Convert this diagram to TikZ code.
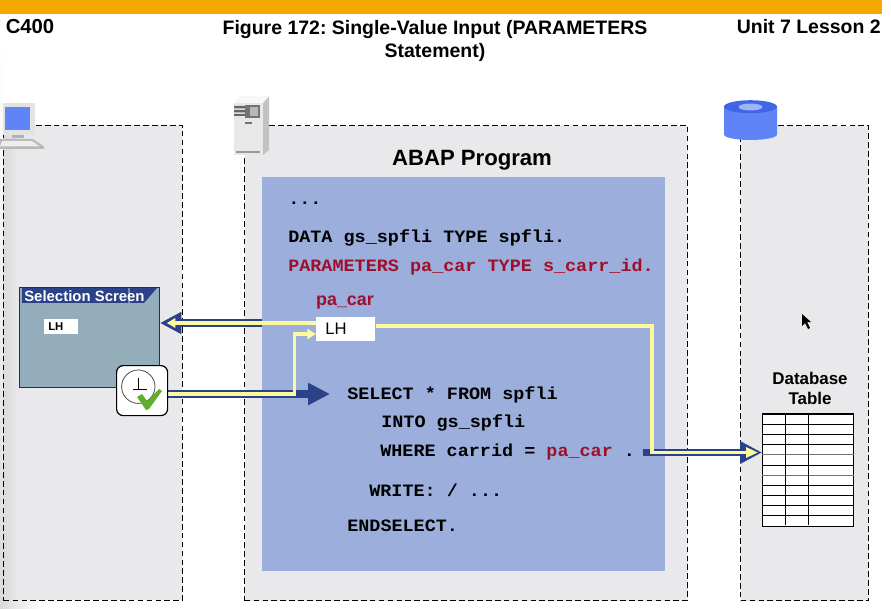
\documentclass[tikz,border=0pt]{standalone}
\usepackage{fontspec}
\usetikzlibrary{arrows.meta}
\setmainfont{Liberation Sans}
\setmonofont[FakeStretch=1.065]{Liberation Mono}
\frenchspacing
\definecolor{barorange}{HTML}{F3A900}
\definecolor{panelgray}{HTML}{E9E8EA}
\definecolor{edgegray}{HTML}{DADADA}
\definecolor{progblue}{HTML}{9BAEDC}
\definecolor{codered}{HTML}{A00F2A}
\definecolor{navyarrow}{HTML}{2B4288}
\definecolor{paleyellow}{HTML}{FBFB9E}
\definecolor{screenteal}{HTML}{93ADBB}
\definecolor{diskblue}{HTML}{5F84F8}
\definecolor{disktop}{HTML}{3F66E6}
\definecolor{diskhole}{HTML}{9DB4FA}
\definecolor{tickgreen}{HTML}{62AE2C}
\tikzset{
  panel/.style={draw=black,fill=panelgray,line width=1pt,dash pattern=on 4.3pt off 2.4pt,inner sep=0pt,anchor=north west},
  codetext/.style={anchor=west,inner sep=0pt,font=\ttfamily\bfseries\fontsize{13}{15}\selectfont,text=black},
  headtext/.style={inner sep=0pt,font=\bfseries\fontsize{14.6}{17.25}\selectfont,align=center},
  navyline/.style={draw=navyarrow,line width=5.5pt},
  yellowline/.style={draw=paleyellow,line width=2.3pt},
  valuebox/.style={fill=white,inner sep=0pt,anchor=north west},
  rowline/.style={draw=black,line width=1.05pt}
}
\begin{document}
\begin{tikzpicture}[x=0.75pt,y=-0.75pt]
\useasboundingbox (0,0) rectangle (891,609);
\fill[white] (0,0) rectangle (891,609);
\fill[barorange] (0,0) rectangle (882,14);
\shade[top color=white,bottom color=edgegray] (0,40) rectangle (3,609);
\shade[left color=edgegray,right color=white] (0,600) rectangle (40,609);
\node[headtext,anchor=east,font=\bfseries\fontsize{15.2}{18}\selectfont] (course) at (54.5,27) {C400};
\node[headtext] (title) at (435,41) {Figure 172: Single-Value Input (PARAMETERS\\Statement)};
\node[headtext,anchor=east] (unit) at (881,27) {Unit 7 Lesson 2};
% panels
\fill[panelgray] (3,125) rectangle (182,600);
\shade[left color=edgegray,right color=panelgray] (3,125) rectangle (18,600);
\node[panel,fill=none,minimum width=179*0.75pt,minimum height=475*0.75pt] (clientpanel) at (3,125) {};
\node[panel,minimum width=443*0.75pt,minimum height=475*0.75pt] (serverpanel) at (244,125) {};
\node[panel,minimum width=128*0.75pt,minimum height=475*0.75pt] (dbpanel) at (740,125) {};
\node[fill=progblue,inner sep=0pt,anchor=north west,minimum width=403*0.75pt,minimum height=394*0.75pt] (progbox) at (262,177) {};
\node[inner sep=0pt,font=\bfseries\fontsize{16.6}{19}\selectfont] (abap) at (472,160.5) {ABAP Program};
% code
\node[codetext] (c1) at (288,203) {...};
\node[codetext] (c2) at (288,237.5) {DATA gs\_spfli TYPE spfli.};
\node[codetext,text=codered] (c3) at (288,267) {PARAMETERS pa\_car TYPE s\_carr\_id.};
\node[inner sep=0pt,font=\bfseries\fontsize{13.4}{15}\selectfont,text=codered] (pacar) at (345,303) {pa\_car};
\node[valuebox,minimum width=59*0.75pt,minimum height=24*0.75pt] (lhprog) at (316,317) {};
\node[anchor=west,inner sep=0pt,font=\fontsize{12.5}{14}\selectfont] (lhtext) at (325,329) {LH};
\node[codetext] (c4) at (347,395) {SELECT * FROM spfli};
\node[codetext] (c5) at (381,423) {INTO gs\_spfli};
\node[codetext] (c6) at (380,452) {WHERE carrid = \textcolor{codered}{pa\_car} .};
\node[codetext] (c7) at (369,490) {WRITE: / ...};
\node[codetext] (c8) at (347,526) {ENDSELECT.};
% selection screen
\node[draw=navyarrow!70!black,line width=0.5pt,fill=screenteal,minimum width=140*0.75pt,minimum height=100*0.75pt,anchor=north west,inner sep=0pt] (screen) at (19.3,287.3) {};
\fill[navyarrow] (21.7,288) rectangle (144,303);
\fill[navyarrow] (144,288) -- (157,288) -- (144,303) -- cycle;
\fill[screenteal!70!navyarrow] (128,288) rectangle (130,303);
\node[anchor=west,inner sep=0pt,text=white,font=\bfseries\fontsize{11.2}{13}\selectfont] (sstitle) at (24,296) {Selection Screen};
\node[valuebox,minimum width=34*0.75pt,minimum height=15*0.75pt] (lhscreen) at (43.3,319) {};
\node[anchor=west,inner sep=0pt,font=\bfseries\fontsize{8.5}{10}\selectfont] (lhs) at (48,327) {LH};
% connectors
\coordinate (yellowtipa) at (166.7,323);
\coordinate (navytipb) at (330,394);
\coordinate (bendb) at (294.5,394);
\coordinate (bendc) at (652,326);
\coordinate (bendd) at (652,452.5);
\coordinate (yellowtipd) at (758,452.5);
\coordinate (navystartd) at (643,452.5);
\node[draw=black,line width=1pt,fill=white,minimum width=91*0.75pt,minimum height=112.5*0.75pt,anchor=north west,inner sep=0pt] (table) at (762,413.3) {};
\draw[navyline,-{Triangle[length=16pt,width=15.5pt]}] (progbox.west |- 0,323) -- (screen.east |- 0,323);
\draw[navyline,-{Triangle[length=16.5pt,width=15.75pt]}] (166.5,394) -- (navytipb);
\draw[navyline,-{Triangle[length=16.5pt,width=16pt]}] (navystartd) -- (table.west |- navystartd);
\draw[yellowline,-{Triangle[length=6.5pt,width=7pt]}] (lhprog.west |- 0,323) -- (yellowtipa);
\draw[yellowline,-{Triangle[length=6.5pt,width=7.5pt]}] (166.5,394) -- (bendb) -- (bendb |- 0,334) -- (lhprog.west |- 0,334);
\draw[yellowline,-{Triangle[length=9pt,width=7.5pt]}] (lhprog.east |- bendc) -- (bendc) -- (bendd) -- (yellowtipd);
% execute button
\node[draw=black,line width=0.9pt,fill=white,rounded corners=5pt,minimum width=51*0.75pt,minimum height=50*0.75pt,anchor=north west,inner sep=0pt] (exec) at (116,365) {};
\draw[black!70,line width=0.6pt,fill=white] (138.3,386.7) circle (16.7*0.75pt);
\draw[black,line width=0.5pt] (138.3,378) -- (138.3,389.3) (133,389.3) -- (147,389.3);
\fill[tickgreen] (137,397) -- (142,394) -- (147,401) -- (159,389) -- (162,391) -- (149,409) -- (146,410) -- cycle;
% database label and table
\node[inner sep=0pt,align=center,font=\bfseries\fontsize{12.7}{15}\selectfont] (dbl) at (810,388) {Database\\Table};
\foreach \yy in {424.5,434.5,444.5,465.5,485.5,495.5,505.5,515.5}{\draw[rowline] (table.west |- 0,\yy) -- (table.east |- 0,\yy);}
\foreach \yy in {454.5,475.5}{\draw[draw=black!55,line width=1.05pt] (table.west |- 0,\yy) -- (table.east |- 0,\yy);}
\foreach \xx in {785.5,808.5}{\draw[rowline] (\xx,414) -- (\xx,525);}
% pc icon
\fill[black!11] (2.5,103) rectangle (34.5,135);
\fill[diskblue] (4.5,107) rectangle (30,130);
\fill[black!30] (12,135) rectangle (24,138);
\fill[black!28] (0,139) -- (33,139) -- (44,146.5) -- (44,149) -- (0,149) -- cycle;
\fill[black!7] (2,141) -- (32,141) -- (40,146.5) -- (0,146.5) -- cycle;
% server icon
\fill[black!9] (233.5,103) -- (263,103) -- (263,155) -- (233.5,155) -- cycle;
\fill[black!24] (263,103) -- (269,96) -- (269,150) -- (263,155) -- cycle;
\fill[black!3] (233.5,103) -- (240,96) -- (269,96) -- (263,103) -- cycle;
\fill[black!55] (245,105) rectangle (260,118);
\fill[black!28] (250,107) rectangle (258,116);
\fill[black!60] (234,106) rectangle (245,108.5) (234,110) rectangle (245,112.5) (234,114) rectangle (245,116);
\fill[black!55] (245,122) rectangle (252,124);
\fill[black!40] (235.5,151) rectangle (260,153);
% database icon
\fill[diskblue] (724,107) -- (724,134.5) arc[start angle=180,end angle=0,x radius=26.5,y radius=5.5] -- (777,107) -- cycle;
\fill[disktop] (750.5,106.7) ellipse [x radius=26.5,y radius=6.5];
\fill[diskhole] (750.5,107) ellipse [x radius=12,y radius=3.5];
% cursor
\fill[black] (802,314) -- (802,326) -- (805,323) -- (808,329) -- (810,328) -- (807,322) -- (811,322) -- cycle;
\end{tikzpicture}
\end{document}
